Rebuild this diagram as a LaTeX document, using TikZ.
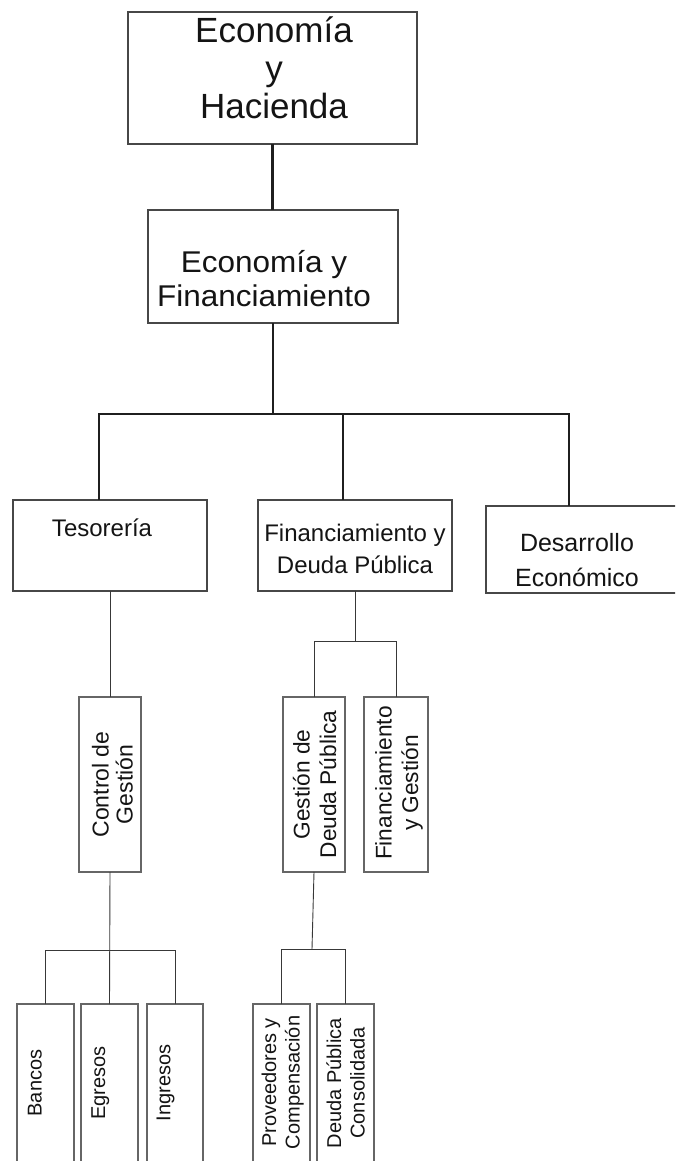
\documentclass[tikz,border=0pt]{standalone}
\usepackage{fontspec}
\setmainfont{Liberation Sans}
\newfontfamily\widesans[FakeStretch=1.05]{Liberation Sans}
\newcommand\mltext[1]{\begin{tabular}[t]{@{}c@{}}#1\end{tabular}}
\definecolor{boxc}{gray}{0.28}
\definecolor{lboxc}{gray}{0.40}
\definecolor{linec}{gray}{0.12}
\definecolor{thinc}{gray}{0.22}
\definecolor{txtc}{gray}{0.08}
\begin{document}
\begin{tikzpicture}[x=1pt,y=-1pt,
  box/.style={draw=boxc, line width=1.3pt, inner sep=0pt, outer sep=0pt},
  lbox/.style={draw=lboxc, line width=1.1pt, inner sep=0pt, outer sep=0pt},
  thk/.style={draw=linec, line width=2.7pt},
  thn/.style={draw=thinc, line width=0.9pt},
  lbl/.style={anchor=base, inner sep=0pt, text=txtc}]
\useasboundingbox (0,0) rectangle (675,1161);
\fill[white] (0,0) rectangle (675,1161);
\clip (0,0) rectangle (675,1161);
% boxes
\node[box, minimum width=289pt, minimum height=132pt] (eh) at (272.5,78) {};
\node[box, minimum width=250pt, minimum height=113pt] (ef) at (273,266.5) {};
\node[box, minimum width=194pt, minimum height=91pt] (tes) at (110,545.5) {};
\node[box, minimum width=194pt, minimum height=91pt] (fdp) at (355,545.5) {};
\node[box, minimum width=194pt, minimum height=87pt] (des) at (583,549.5) {};
\node[lbox, minimum width=62pt, minimum height=175pt] (cg) at (110,784.5) {};
\node[lbox, minimum width=62pt, minimum height=175pt] (gdp) at (314,784.5) {};
\node[lbox, minimum width=64pt, minimum height=175pt] (fg) at (396,784.5) {};
\node[lbox, minimum width=57pt, minimum height=176pt] (ban) at (45.5,1092) {};
\node[lbox, minimum width=57pt, minimum height=176pt] (egr) at (109.5,1092) {};
\node[lbox, minimum width=56pt, minimum height=176pt] (ing) at (175,1092) {};
\node[lbox, minimum width=57pt, minimum height=176pt] (prv) at (281.5,1092) {};
\node[lbox, minimum width=57pt, minimum height=176pt] (dpc) at (345.5,1092) {};
% labels
\node[lbl, font=\fontsize{35}{38}\selectfont] (teh) at (274,43) {\mltext{Economía\\y\\Hacienda}};
\node[lbl, font=\widesans\fontsize{30}{34}\selectfont] (tef) at (264,272.7) {\mltext{Economía y\\Financiamiento}};
\node[lbl, font=\fontsize{24}{32}\selectfont] (ttes) at (102,536) {Tesorería};
\node[lbl, font=\fontsize{24}{32}\selectfont] (tfdp) at (355,541) {\mltext{Financiamiento y\\Deuda Pública}};
\node[lbl, font=\fontsize{25}{35.5}\selectfont] (tdes) at (577,551) {\mltext{Desarrollo\\Económico}};
\node[lbl, rotate=90, font=\fontsize{23}{24}\selectfont] (tcg) at (108.5,784.5) {\mltext{Control de\\Gestión}};
\node[lbl, rotate=90, font=\fontsize{22.7}{26.5}\selectfont] (tgdp) at (309.5,784.5) {\mltext{Gestión de\\Deuda Pública}};
\node[lbl, rotate=90, font=\fontsize{22.7}{26.5}\selectfont] (tfg) at (391.5,783) {\mltext{Financiamiento\\y Gestión}};
\node[lbl, rotate=90, font=\fontsize{20}{23.5}\selectfont] (tban) at (41.5,1083) {Bancos};
\node[lbl, rotate=90, font=\fontsize{20}{23.5}\selectfont] (tegr) at (105,1083) {Egresos};
\node[lbl, rotate=90, font=\fontsize{20}{23.5}\selectfont] (ting) at (170.3,1083) {Ingresos};
\node[lbl, rotate=90, font=\fontsize{20}{23.5}\selectfont] (tprv) at (276,1082.5) {\mltext{Proveedores y\\Compensación}};
\node[lbl, rotate=90, font=\fontsize{20}{23.5}\selectfont] (tdpc) at (341,1083) {\mltext{Deuda Pública\\Consolidada}};
% connectors
\coordinate (bm) at (272,414);
\coordinate (bl) at (99,414);
\coordinate (br) at (569,414);
\coordinate (bc) at (343,414);
\draw[thk] (eh.south) -- (eh.south |- ef.north);
\draw[thk] (ef.south) -- (ef.south |- bm);
\draw[thk] (tes.north -| bl) -- (bl) -- (br) -- (des.north -| br);
\draw[thk] (bc) -- (fdp.north -| bc);
\draw[thn] (tes.south) -- (cg.north);
\coordinate (j3) at (110,950);
\draw[thn] (cg.south) -- (egr.north);
\draw[thn] (ban.north) -- (ban.north |- j3) -- (ing.north |- j3) -- (ing.north);
\coordinate (j4) at (355,641);
\draw[thn] (fdp.south) -- (fdp.south |- j4);
\draw[thn] (gdp.north) -- (gdp.north |- j4) -- (fg.north |- j4) -- (fg.north);
\coordinate (j5) at (312,949);
\draw[thn] (gdp.south) -- (j5);
\draw[thn] (prv.north) -- (prv.north |- j5) -- (dpc.north |- j5) -- (dpc.north);
\end{tikzpicture}
\end{document}
